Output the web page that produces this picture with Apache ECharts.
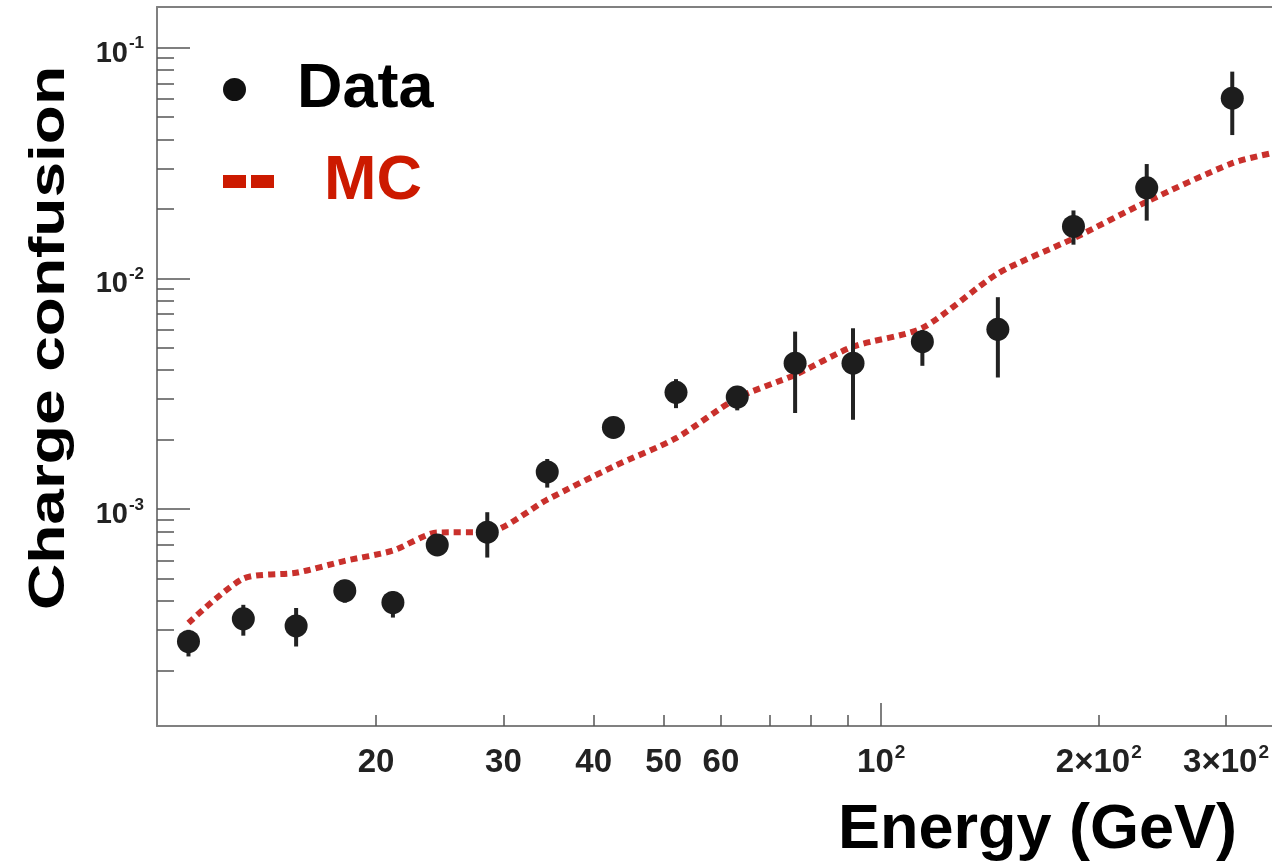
<!DOCTYPE html>
<html><head><meta charset="utf-8">
<script src="https://cdn.jsdelivr.net/npm/echarts@6/dist/echarts.min.js"></script>
<style>html,body{margin:0;padding:0;background:#fff}#c{width:1272px;height:865px}</style>
</head><body><div id="c"></div>
<script>
// ---- data ----
const energy    = [11.0, 13.1, 15.5, 18.1, 21.1, 24.3, 28.5, 34.5, 42.6, 52.0, 63.2, 76.0, 91.4, 114, 145, 184.5, 233, 306];
const dataValue = [2.67e-4, 3.35e-4, 3.12e-4, 4.43e-4, 3.94e-4, 7.0e-4, 7.95e-4, 1.45e-3, 2.26e-3, 3.21e-3, 3.06e-3, 4.29e-3, 4.29e-3, 5.32e-3, 6.02e-3, 1.68e-2, 2.47e-2, 6.04e-2];
const errLow    = [2.30e-4, 2.83e-4, 2.54e-4, 3.93e-4, 3.39e-4, 6.34e-4, 6.17e-4, 1.24e-3, 2.11e-3, 2.74e-3, 2.68e-3, 2.61e-3, 2.44e-3, 4.18e-3, 3.72e-3, 1.40e-2, 1.78e-2, 4.18e-2];
const errHigh   = [3.0e-4, 3.85e-4, 3.73e-4, 4.94e-4, 4.40e-4, 7.7e-4, 9.7e-4, 1.65e-3, 2.42e-3, 3.66e-3, 3.42e-3, 5.88e-3, 6.08e-3, 5.98e-3, 8.29e-3, 1.97e-2, 3.13e-2, 7.87e-2];
const mcEnergy  = [11.0, 13.1, 15.5, 18.1, 21.1, 24.3, 28.5, 34.5, 42.6, 52.0, 63.2, 76.0, 91.4, 114, 145, 184.5, 233, 306, 347];
const mcValue   = [3.21e-4, 5.0e-4, 5.3e-4, 5.97e-4, 6.61e-4, 7.92e-4, 7.95e-4, 1.10e-3, 1.53e-3, 2.03e-3, 3.03e-3, 3.82e-3, 5.06e-3, 6.1e-3, 1.05e-2, 1.49e-2, 2.15e-2, 3.16e-2, 3.49e-2];

const xMin = 9.95, xMax = 347;
const yMin = 1.149e-4, yMax = 0.150;
const xLabelValues = [20, 30, 40, 50, 60, 100, 200, 300];
const xLabelText   = ['20', '30', '40', '50', '60', '10^2', '2×10^2', '3×10^2'];
const xMinorTicks  = [20, 30, 40, 50, 60, 70, 80, 90, 200, 300];
const xMajorTicks  = [100];
const yLabelValues = [1e-3, 1e-2, 1e-1];
const yLabelText   = ['10^-3', '10^-2', '10^-1'];
const yMinorTicks  = [2e-4, 3e-4, 4e-4, 5e-4, 6e-4, 7e-4, 8e-4, 9e-4,
                      2e-3, 3e-3, 4e-3, 5e-3, 6e-3, 7e-3, 8e-3, 9e-3,
                      2e-2, 3e-2, 4e-2, 5e-2, 6e-2, 7e-2, 8e-2, 9e-2];
const yMajorTicks  = [1e-3, 1e-2, 1e-1];
const xTitle = 'Energy (GeV)';
const yTitle = 'Charge confusion';

// ---- helpers ----
const FONT = 'Liberation Sans';
function richLabel(values, texts) {
  return function (v) {
    let idx = -1;
    for (let i = 0; i < values.length; i++) {
      if (Math.abs(Math.log10(v) - Math.log10(values[i])) < 0.005) idx = i;
    }
    if (idx < 0) return '';
    const parts = texts[idx].split('^');
    return parts.length > 1 ? '{b|' + parts[0] + '}{s|' + parts[1] + '}' : '{b|' + parts[0] + '}';
  };
}
const axisGray = '#808080';
const tickGray = '#555555';

const chart = echarts.init(document.getElementById('c'), null, {renderer: 'canvas'});
chart.setOption({
  backgroundColor: '#ffffff',
  animation: false,
  grid: {left: 157, top: 7, right: 0, bottom: 139, containLabel: false},
  legend: [
    {
      left: 223, top: 58, padding: 0, itemWidth: 23, itemHeight: 23, selectedMode: false,
      data: [{name: 'Data', icon: 'circle', itemStyle: {color: '#111111', borderWidth: 0, opacity: 1}}],
      textStyle: {fontSize: 63, fontWeight: 'bold', fontFamily: FONT, color: '#000000', padding: [0, 0, 12, 46]}
    },
    {
      left: 223, top: 150, padding: 0, itemWidth: 51, itemHeight: 13, selectedMode: false,
      data: [{name: 'MC', icon: 'path://M0,0h23v13h-23z M28,0h23v13h-23z', itemStyle: {color: '#cc1a00', borderWidth: 0}}],
      textStyle: {fontSize: 63, fontWeight: 'bold', fontFamily: FONT, color: '#cc1a00', padding: [6, 0, 0, 45]}
    }
  ],
  xAxis: [
    {
      type: 'log', logBase: 10, min: xMin, max: xMax, position: 'bottom',
      axisLine: {show: true, lineStyle: {color: axisGray, width: 2}},
      axisTick: {show: true, inside: true, length: 11, customValues: xMinorTicks, lineStyle: {color: tickGray, width: 1.5}},
      axisLabel: {
        show: true, customValues: xLabelValues, margin: 16, formatter: richLabel(xLabelValues, xLabelText),
        rich: {
          b: {fontSize: 33, lineHeight: 33, fontWeight: 'bold', fontFamily: FONT, color: '#222222', padding: [8, 0, 0, 0]},
          s: {fontSize: 19, fontWeight: 'bold', fontFamily: FONT, color: '#222222', verticalAlign: 'top', padding: [1, 0, 0, 1]}
        }
      },
      splitLine: {show: false}
    },
    {
      type: 'log', logBase: 10, min: xMin, max: xMax, position: 'bottom',
      axisLine: {show: false},
      axisTick: {show: true, inside: true, length: 23, customValues: xMajorTicks, lineStyle: {color: tickGray, width: 1.5}},
      axisLabel: {show: false}, splitLine: {show: false}
    },
    {
      type: 'log', logBase: 10, min: xMin, max: xMax, position: 'top',
      axisLine: {show: true, lineStyle: {color: axisGray, width: 2}},
      axisTick: {show: false}, axisLabel: {show: false}, splitLine: {show: false}
    }
  ],
  yAxis: [
    {
      type: 'log', logBase: 10, min: yMin, max: yMax, position: 'left',
      axisLine: {show: true, lineStyle: {color: axisGray, width: 2}},
      axisTick: {show: true, inside: true, length: 17, customValues: yMinorTicks, lineStyle: {color: tickGray, width: 1.5}},
      axisLabel: {
        show: true, customValues: yLabelValues, margin: 13, formatter: richLabel(yLabelValues, yLabelText),
        rich: {
          b: {fontSize: 29, lineHeight: 29, fontWeight: 'bold', fontFamily: FONT, color: '#222222', padding: [12, 0, 0, 0]},
          s: {fontSize: 17, fontWeight: 'bold', fontFamily: FONT, color: '#222222', verticalAlign: 'top', padding: [2, 0, 0, 1]}
        }
      },
      splitLine: {show: false}
    },
    {
      type: 'log', logBase: 10, min: yMin, max: yMax, position: 'left',
      axisLine: {show: false},
      axisTick: {show: true, inside: true, length: 33, customValues: yMajorTicks, lineStyle: {color: tickGray, width: 1.5}},
      axisLabel: {show: false}, splitLine: {show: false}
    }
  ],
  graphic: [
    {
      type: 'text', x: 50, y: 338, rotation: Math.PI / 2, scaleX: 1.28, scaleY: 1,
      style: {text: yTitle, font: 'bold 50px "Liberation Sans"', fill: '#000000', align: 'center', verticalAlign: 'middle'}
    },
    {
      type: 'text', x: 1237, y: 831,
      style: {text: xTitle, font: 'bold 63px "Liberation Sans"', fill: '#000000', align: 'right', verticalAlign: 'middle'}
    }
  ],
  series: [
    {
      name: 'MC', type: 'line', xAxisIndex: 0, yAxisIndex: 0,
      data: mcEnergy.map((e, i) => [e, mcValue[i]]),
      symbol: 'none', showSymbol: false, smooth: 0.25, clip: true,
      color: '#c9302c',
      lineStyle: {color: '#c9302c', width: 6, type: [7, 5], cap: 'butt'},
      z: 2
    },
    {
      name: 'Data error', type: 'custom', xAxisIndex: 0, yAxisIndex: 0,
      data: energy.map((e, i) => [e, errLow[i], errHigh[i]]),
      encode: {x: 0, y: [1, 2]},
      renderItem: function (params, api) {
        const lo = api.coord([api.value(0), api.value(1)]);
        const hi = api.coord([api.value(0), api.value(2)]);
        return {type: 'line', shape: {x1: lo[0], y1: lo[1], x2: hi[0], y2: hi[1]},
                style: {stroke: '#222222', lineWidth: 4}};
      },
      z: 3
    },
    {
      name: 'Data', type: 'scatter', xAxisIndex: 0, yAxisIndex: 0,
      data: energy.map((e, i) => [e, dataValue[i]]),
      symbol: 'circle', symbolSize: 23,
      itemStyle: {color: '#1d1d1d', opacity: 1},
      z: 4
    }
  ]
});
</script>
</body></html>
